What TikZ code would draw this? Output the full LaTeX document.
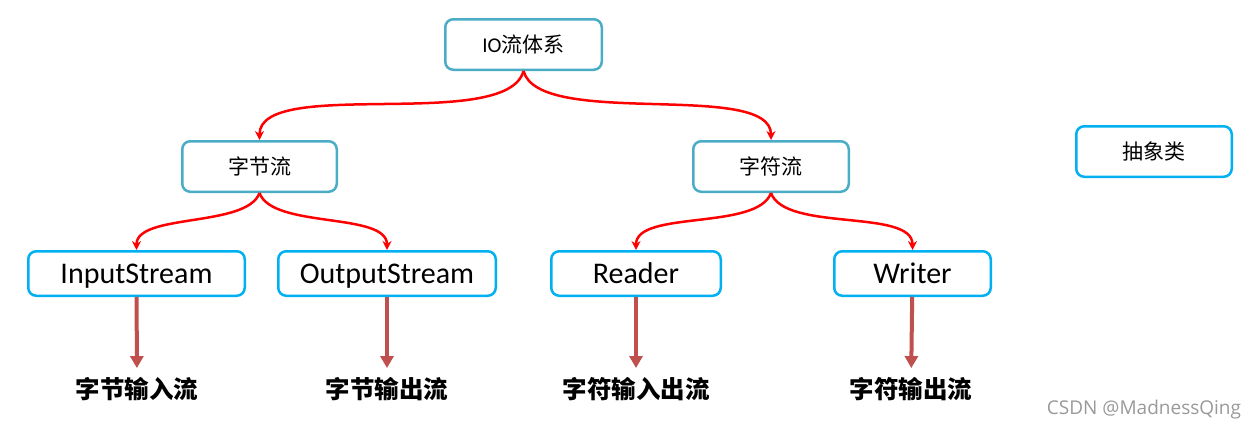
\documentclass[tikz,border=0pt]{standalone}
\usepackage{fontspec}
\setmainfont{Carlito}
\newfontfamily\cjk{Noto Sans CJK SC}
\newfontfamily\wmfont{Open Sans}
\usetikzlibrary{arrows.meta}
\definecolor{tealline}{HTML}{4BACC6}
\definecolor{cyanline}{HTML}{00B0F0}
\definecolor{darkred}{HTML}{C0504D}

\begin{document}
\begin{tikzpicture}[x=1pt,y=-1pt,
    box/.style={draw=tealline, line width=2.5pt, rounded corners=8pt, minimum height=50.5pt, inner sep=0pt, font=\cjk\fontsize{21}{25}\selectfont},
    cbox/.style={box, draw=cyanline, minimum height=44.5pt, text height=24pt, text depth=5pt, font=\fontsize{30}{34}\selectfont},
    rarr/.style={red, line width=2.5pt, -{Stealth[length=9pt,width=9pt]}},
    darr/.style={darkred, line width=4pt, -{Triangle[length=12pt,width=13pt]}},
    lbl/.style={font=\cjk\bfseries\fontsize{24.5}{28}\selectfont, inner sep=9pt}]
        \useasboundingbox (0,0) rectangle (1258,431);
        % top level
        \node[box, minimum width=156.5pt] (io) at (523.5,44.5) {\rmfamily IO\cjk 流体系};
        \node[box, minimum width=154.5pt] (byte) at (259.5,166.5) {字节流};
        \node[box, minimum width=155.5pt] (chr) at (771,166.5) {字符流};
        \node[box, draw=cyanline, minimum width=155.5pt] (abs) at (1154,151.5) {抽象类};
        % abstract classes
        \node[cbox, minimum width=216.5pt] (in) at (136.5,273.5) {InputStream};
        \node[cbox, minimum width=217.5pt] (out) at (387,273.5) {OutputStream};
        \node[cbox, minimum width=169.5pt] (rd) at (636,273.5) {Reader};
        \node[cbox, minimum width=156.5pt] (wr) at (912.5,273.5) {Writer};
        % labels
        \node[lbl] (inlbl) at (137,389) {字节输入流};
        \node[lbl] (outlbl) at (387,389) {字节输出流};
        \node[lbl] (rdlbl) at (636,389) {字符输入出流};
        \node[lbl] (wrlbl) at (911,389) {字符输出流};
        \node[font=\wmfont\fontsize{19}{21}\selectfont, text=black!40] (wm) at (1144,410) {CSDN @MadnessQing};
        % curves
        \draw[rarr] (io.south) to[out=-105,in=90,looseness=0.6] (byte.north);
        \draw[rarr] (io.south) to[out=-75,in=90,looseness=0.6] (chr.north);
        \draw[rarr] (byte.south) to[out=-110,in=90,looseness=0.7] (in.north);
        \draw[rarr] (byte.south) to[out=-70,in=90,looseness=0.7] (out.north);
        \draw[rarr] (chr.south) to[out=-110,in=90,looseness=0.7] (rd.north);
        \draw[rarr] (chr.south) to[out=-70,in=90,looseness=0.7] (wr.north);
        \foreach \n in {in,out,rd,wr}
        { \draw[darr] (\n) -- (\n lbl);
        }
\end{tikzpicture}
\end{document}
